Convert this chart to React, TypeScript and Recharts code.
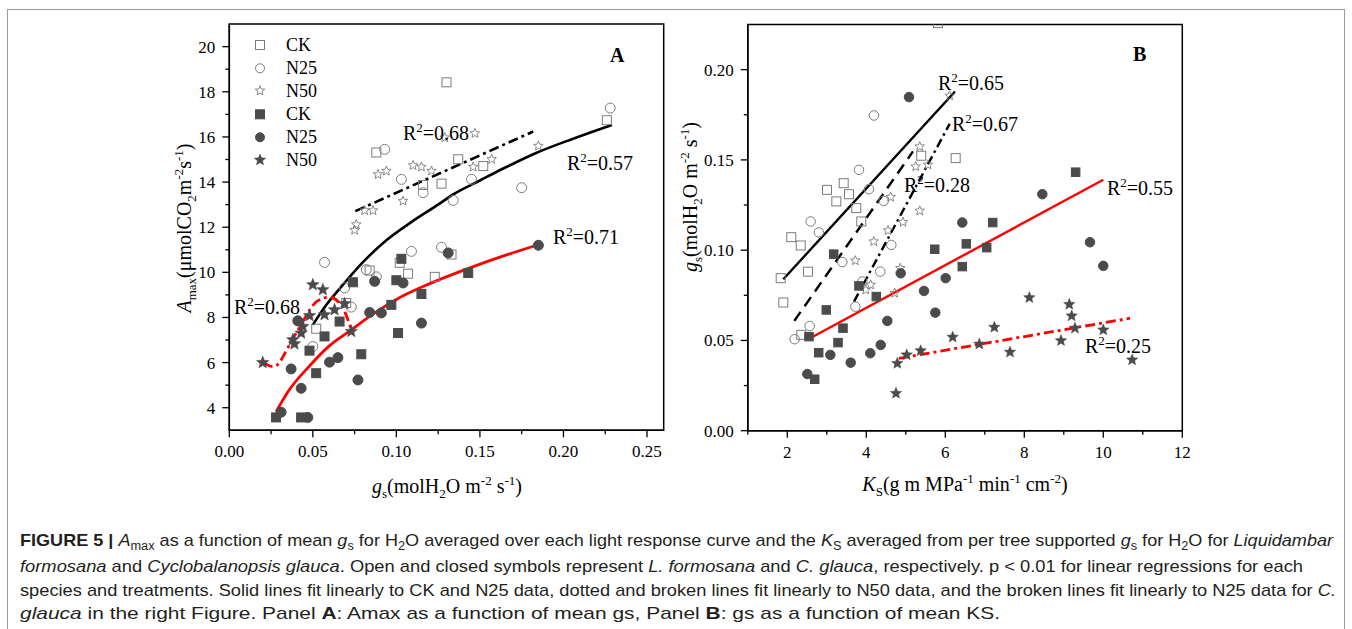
import React from 'react';
import { ComposedChart, Scatter, Line, XAxis, YAxis, ReferenceArea } from 'recharts';

type Pt = { x: number; y: number };
const pts = (arr: number[][]): Pt[] => arr.map(([x, y]) => ({ x, y }));

// ---------------- Panel A data: Amax vs gs ----------------
const aOpenCK = pts([
  [0.130, 18.42], [0.226, 16.74], [0.088, 15.31], [0.137, 15.01], [0.152, 14.71], [0.116, 13.87],
  [0.127, 13.93], [0.084, 10.08], [0.102, 10.42], [0.107, 9.94], [0.123, 9.80], [0.133, 10.79],
  [0.052, 7.50], [0.070, 8.64],
]);
const aOpenN25 = pts([
  [0.228, 17.28], [0.093, 15.45], [0.103, 14.12], [0.116, 13.53], [0.134, 13.19], [0.145, 14.12],
  [0.175, 13.75], [0.057, 10.44], [0.082, 10.12], [0.088, 9.80], [0.109, 10.93], [0.127, 11.11],
  [0.069, 9.31], [0.073, 8.46], [0.050, 6.71],
]);
const aOpenN50 = pts([
  [0.147, 16.16], [0.129, 15.97], [0.185, 15.60], [0.157, 15.01], [0.146, 14.67], [0.110, 14.74],
  [0.115, 14.67], [0.121, 14.49], [0.089, 14.34], [0.094, 14.49], [0.104, 13.16], [0.081, 12.74],
  [0.086, 12.74], [0.076, 12.12], [0.075, 11.87],
]);
const aClosedCK = pts([
  [0.074, 9.56], [0.103, 10.60], [0.100, 9.65], [0.143, 9.97], [0.115, 9.04], [0.097, 8.56],
  [0.101, 7.31], [0.066, 7.82], [0.057, 7.16], [0.048, 6.53], [0.079, 6.37], [0.052, 5.53],
  [0.028, 3.57], [0.043, 3.57],
]);
const aClosedN25 = pts([
  [0.185, 11.20], [0.131, 10.86], [0.087, 9.60], [0.104, 9.53], [0.084, 8.22], [0.091, 8.20],
  [0.115, 7.75], [0.041, 7.85], [0.037, 5.72], [0.060, 6.02], [0.065, 6.22], [0.077, 5.23],
  [0.043, 4.86], [0.031, 3.80], [0.047, 3.57],
]);
const aClosedN50 = pts([
  [0.020, 6.00], [0.038, 7.01], [0.039, 6.83], [0.043, 7.31], [0.044, 7.60], [0.048, 8.08],
  [0.050, 9.45], [0.056, 9.23], [0.057, 8.12], [0.063, 8.34], [0.069, 8.61], [0.073, 7.38],
]);
// fitted curves
const aFitOpenSolid = pts([
  [0.050, 7.67], [0.058, 8.55], [0.066, 9.27], [0.080, 10.45], [0.094, 11.42], [0.110, 12.28],
  [0.125, 13.0], [0.134, 13.45], [0.150, 14.07], [0.164, 14.6], [0.184, 15.3], [0.205, 15.9], [0.229, 16.53],
]);
const aFitOpenN50 = pts([[0.0754, 12.71], [0.1819, 16.24]]);
const aFitClosedSolid = pts([
  [0.028, 3.82], [0.035, 4.70], [0.048, 5.85], [0.060, 6.75], [0.073, 7.45], [0.087, 8.2],
  [0.100, 8.8], [0.120, 9.5], [0.144, 10.2], [0.165, 10.75], [0.184, 11.2],
]);
const aFitClosedN50 = pts([
  [0.0204, 6.0], [0.0264, 5.82], [0.030, 6.0], [0.0324, 6.3], [0.0388, 7.16], [0.0428, 7.65],
  [0.0478, 8.3], [0.0524, 8.71], [0.060, 8.9], [0.0674, 8.49], [0.0734, 7.38],
]);
const aXMajor = [0, 0.05, 0.1, 0.15, 0.2, 0.25];
const aXMinor = [0.025, 0.075, 0.125, 0.175, 0.225];
const aYMajor = [4, 6, 8, 10, 12, 14, 16, 18, 20];
const aYMinor = [5, 7, 9, 11, 13, 15, 17, 19];
const aR2 = ['0.68', '0.57', '0.71', '0.68'];

// ---------------- Panel B data: gs vs KS ----------------
const bOpenCK = pts([
  [5.815, 0.2258], [6.263, 0.151], [5.39, 0.1523], [3.005, 0.1334], [3.428, 0.1371], [3.562, 0.131],
  [3.241, 0.127], [3.747, 0.1233], [3.873, 0.1159], [2.10, 0.1072], [2.34, 0.1026], [1.833, 0.0845],
  [2.524, 0.0881], [1.899, 0.071], [2.354, 0.0531],
]);
const bOpenN25 = pts([
  [4.195, 0.1746], [3.815, 0.1445], [4.068, 0.1338], [4.44, 0.1273], [2.592, 0.1159], [2.80, 0.1098],
  [4.633, 0.1029], [3.393, 0.0934], [4.354, 0.0881], [3.899, 0.0826], [3.722, 0.0687], [2.567, 0.058],
  [2.187, 0.0507],
]);
const bOpenN50 = pts([
  [6.11, 0.1855], [5.352, 0.1574], [5.25, 0.1463], [5.562, 0.1473], [4.618, 0.1294], [5.352, 0.1218],
  [4.929, 0.1155], [4.549, 0.1109], [4.187, 0.1048], [3.722, 0.0942], [4.861, 0.090], [4.111, 0.0808],
  [3.985, 0.078], [4.719, 0.0762],
]);
const bClosedCK = pts([
  [9.30, 0.1432], [7.20, 0.1153], [5.732, 0.1005], [6.532, 0.1035], [6.43, 0.0909], [7.048, 0.1014],
  [3.175, 0.0978], [3.815, 0.0802], [4.253, 0.0743], [2.987, 0.0669], [3.41, 0.0568], [2.549, 0.0521],
  [3.284, 0.0488], [2.795, 0.0432], [2.694, 0.0285],
]);
const bClosedN25 = pts([
  [5.081, 0.1848], [6.43, 0.1153], [8.456, 0.131], [9.663, 0.1044], [10.0, 0.0913], [4.871, 0.0872],
  [6.01, 0.0845], [5.461, 0.0774], [5.747, 0.0654], [4.532, 0.0608], [4.365, 0.0475], [4.101, 0.0429],
  [3.605, 0.0377], [3.089, 0.042], [2.506, 0.0314],
]);
const bClosedN50 = pts([
  [4.752, 0.0207], [4.785, 0.0373], [5.023, 0.042], [5.377, 0.0443], [6.187, 0.0518], [6.861, 0.048],
  [7.241, 0.0573], [7.638, 0.0435], [8.127, 0.0737], [8.929, 0.0499], [9.139, 0.070], [9.20, 0.0636],
  [9.283, 0.0568], [10.0, 0.0558], [10.73, 0.0392],
]);
const bFitSolidBlack = pts([[1.899, 0.0839], [6.246, 0.1879]]);
const bFitDashedBlack = pts([[2.177, 0.0608], [5.182, 0.1547]]);
const bFitDashDotBlack = pts([[3.689, 0.0715], [6.111, 0.170]]);
const bFitSolidRed = pts([[2.575, 0.0512], [10.0, 0.139]]);
const bFitDashDotRed = pts([[4.828, 0.0401], [10.676, 0.0623]]);
const bXMajor = [2, 4, 6, 8, 10, 12];
const bXMinor = [1, 3, 5, 7, 9, 11];
const bYMajor = [0, 0.05, 0.1, 0.15, 0.2];
const bYMinor = [0.025, 0.075, 0.125, 0.175];
const bR2 = ['0.65', '0.67', '0.28', '0.55', '0.25'];

const legendLabels = ['CK', 'N25', 'N50', 'CK', 'N25', 'N50'];

// ---------------- styling helpers ----------------
const SERIF = "'Liberation Serif', 'Times New Roman', serif";
const NARROW = "'Liberation Sans Narrow', 'Arial Narrow', 'Liberation Sans', Arial, sans-serif";
const OPEN_C = '#7c7c7c';
const FILL_C = '#4b4b4b';
const RED = '#ff0000';

type Kind = 'square' | 'circle' | 'star';

function starPath(cx: number, cy: number, R: number, r: number) {
  let d = '';
  for (let i = 0; i < 10; i++) {
    const ang = -Math.PI / 2 + (i * Math.PI) / 5;
    const rad = i % 2 === 0 ? R : r;
    d += (i ? 'L' : 'M') + (cx + rad * Math.cos(ang)).toFixed(2) + ',' + (cy + rad * Math.sin(ang)).toFixed(2);
  }
  return d + 'Z';
}

function Mark({ kind, filled, cx, cy, s }: { kind: Kind; filled: boolean; cx: number; cy: number; s: number }) {
  const stroke = filled ? FILL_C : OPEN_C;
  const fill = filled ? FILL_C : 'none';
  if (kind === 'square')
    return <rect x={cx - s / 2} y={cy - s / 2} width={s} height={s} fill={fill} stroke={stroke} strokeWidth={1} />;
  if (kind === 'circle') return <circle cx={cx} cy={cy} r={s / 2} fill={fill} stroke={stroke} strokeWidth={1} />;
  return <path d={starPath(cx, cy, s / 2, s * 0.22)} fill={fill} stroke={stroke} strokeWidth={filled ? 0.5 : 0.9} />;
}

const shape = (kind: Kind, filled: boolean, s: number) => (p: any) =>
  p.cx == null ? <g /> : <Mark kind={kind} filled={filled} cx={p.cx} cy={p.cy} s={s} />;

const isIn = (arr: number[], v: number) => arr.some((m) => Math.abs(m - v) < 1e-9);

const xTick = (majors: number[], fmt: (v: number) => string) => (p: any) => {
  const { x, y, payload } = p;
  const major = isIn(majors, payload.value);
  return (
    <g>
      <line x1={x} x2={x} y1={y} y2={y + (major ? 7 : 4)} stroke="#000" strokeWidth={1.3} />
      {major && (
        <text x={x} y={y + 27} textAnchor="middle" fontFamily={SERIF} fontSize={17} fill="#000">
          {fmt(payload.value)}
        </text>
      )}
    </g>
  );
};

const yTick = (majors: number[], fmt: (v: number) => string) => (p: any) => {
  const { x, y, payload } = p;
  const major = isIn(majors, payload.value);
  return (
    <g>
      <line x1={x - (major ? 7 : 4)} x2={x} y1={y} y2={y} stroke="#000" strokeWidth={1.3} />
      {major && (
        <text x={x - 14} y={y + 6} textAnchor="end" fontFamily={SERIF} fontSize={17} fill="#000">
          {fmt(payload.value)}
        </text>
      )}
    </g>
  );
};

const sortNum = (a: number[], b: number[]) => [...a, ...b].sort((p, q) => p - q);

const R2Label = ({ x, y, v }: { x: number; y: number; v: string }) => (
  <text x={x} y={y} fontFamily={SERIF} fontSize={20} fill="#000">
    R<tspan dy={-8} fontSize={13}>2</tspan>
    <tspan dy={8}>{'=' + v}</tspan>
  </text>
);

const axisLine = { stroke: '#000', strokeWidth: 1.5 };

function PanelA() {
  return (
    <ComposedChart width={580} height={500} margin={{ top: 24.1, right: 16.3, bottom: 39.7, left: 0 }}>
      <XAxis
        dataKey="x" type="number" domain={[0, 0.26]} allowDataOverflow ticks={sortNum(aXMajor, aXMinor)}
        interval={0} tick={xTick(aXMajor, (v) => v.toFixed(2))} tickLine={false} tickSize={0} tickMargin={0}
        height={30} axisLine={axisLine}
      />
      <YAxis
        dataKey="y" type="number" domain={[3, 21]} allowDataOverflow ticks={sortNum(aYMajor, aYMinor)}
        interval={0} tick={yTick(aYMajor, (v) => String(v))} tickLine={false} tickSize={0} tickMargin={0}
        width={129.3} axisLine={axisLine}
      />
      <ReferenceArea x1={0} x2={0.26} y1={3} y2={21} fill="none" stroke="#000" strokeWidth={1.5} />
      <Line data={aFitOpenSolid} dataKey="y" type="monotone" dot={false} stroke="#000" strokeWidth={2.6} isAnimationActive={false} />
      <Line data={aFitOpenN50} dataKey="y" type="linear" dot={false} stroke="#000" strokeWidth={2.6} strokeDasharray="10 4 3 4" isAnimationActive={false} />
      <Line data={aFitClosedSolid} dataKey="y" type="monotone" dot={false} stroke={RED} strokeWidth={2.8} isAnimationActive={false} />
      <Line data={aFitClosedN50} dataKey="y" type="monotone" dot={false} stroke={RED} strokeWidth={2.8} strokeDasharray="10 4 3 4" isAnimationActive={false} />
      <Scatter data={aOpenCK} dataKey="y" shape={shape('square', false, 9)} isAnimationActive={false} />
      <Scatter data={aOpenN25} dataKey="y" shape={shape('circle', false, 10)} isAnimationActive={false} />
      <Scatter data={aOpenN50} dataKey="y" shape={shape('star', false, 10)} isAnimationActive={false} />
      <Scatter data={aClosedCK} dataKey="y" shape={shape('square', true, 9)} isAnimationActive={false} />
      <Scatter data={aClosedN25} dataKey="y" shape={shape('circle', true, 10)} isAnimationActive={false} />
      <Scatter data={aClosedN50} dataKey="y" shape={shape('star', true, 13)} isAnimationActive={false} />
    </ComposedChart>
  );
}

function PanelB() {
  return (
    <ComposedChart width={520} height={500} margin={{ top: 24.5, right: 17.7, bottom: 39.3, left: 0 }}>
      <XAxis
        dataKey="x" type="number" domain={[1, 12]} allowDataOverflow ticks={sortNum(bXMajor, bXMinor)}
        interval={0} tick={xTick(bXMajor, (v) => String(v))} tickLine={false} tickSize={0} tickMargin={0}
        height={30} axisLine={axisLine}
      />
      <YAxis
        dataKey="y" type="number" domain={[0, 0.225]} allowDataOverflow ticks={sortNum(bYMajor, bYMinor)}
        interval={0} tick={yTick(bYMajor, (v) => v.toFixed(2))} tickLine={false} tickSize={0} tickMargin={0}
        width={67.8} axisLine={axisLine}
      />
      <ReferenceArea x1={1} x2={12} y1={0} y2={0.225} fill="none" stroke="#000" strokeWidth={1.5} />
      <Line data={bFitSolidBlack} dataKey="y" type="linear" dot={false} stroke="#000" strokeWidth={2.4} isAnimationActive={false} />
      <Line data={bFitDashedBlack} dataKey="y" type="linear" dot={false} stroke="#000" strokeWidth={2.4} strokeDasharray="11 7" isAnimationActive={false} />
      <Line data={bFitDashDotBlack} dataKey="y" type="linear" dot={false} stroke="#000" strokeWidth={2.4} strokeDasharray="9 4 2.5 4" isAnimationActive={false} />
      <Line data={bFitSolidRed} dataKey="y" type="linear" dot={false} stroke={RED} strokeWidth={2.4} isAnimationActive={false} />
      <Line data={bFitDashDotRed} dataKey="y" type="linear" dot={false} stroke={RED} strokeWidth={2.8} strokeDasharray="10 4 3 4" isAnimationActive={false} />
      <Scatter data={bOpenCK} dataKey="y" shape={shape('square', false, 9)} isAnimationActive={false} />
      <Scatter data={bOpenN25} dataKey="y" shape={shape('circle', false, 9.5)} isAnimationActive={false} />
      <Scatter data={bOpenN50} dataKey="y" shape={shape('star', false, 10)} isAnimationActive={false} />
      <Scatter data={bClosedCK} dataKey="y" shape={shape('square', true, 8.5)} isAnimationActive={false} />
      <Scatter data={bClosedN25} dataKey="y" shape={shape('circle', true, 9.5)} isAnimationActive={false} />
      <Scatter data={bClosedN50} dataKey="y" shape={shape('star', true, 12)} isAnimationActive={false} />
    </ComposedChart>
  );
}

const SUB = 5;
const SUP = 8;

function Overlay() {
  const legendY = [45, 68.3, 90.7, 114.3, 137.3, 160];
  const legendKinds: Kind[] = ['square', 'circle', 'star', 'square', 'circle', 'star'];
  const aR2Pos = [[403, 140], [567, 170], [553, 244], [234, 314]];
  const bR2Pos = [[938, 89.5], [952, 131], [904, 192], [1107, 195], [1085, 352.5]];
  return (
    <svg width={1352} height={629} style={{ position: 'absolute', left: 0, top: 0, pointerEvents: 'none' }}>
      <rect x={7.5} y={9.5} width={1337} height={640} fill="none" stroke="#9a9a9a" strokeWidth={1} />
      {/* legend A */}
      {legendLabels.map((lab, i) => (
        <g key={i}>
          <Mark kind={legendKinds[i]} filled={i >= 3} cx={260} cy={legendY[i]} s={legendKinds[i] === 'star' ? (i >= 3 ? 12 : 10) : 9} />
          <text x={286} y={legendY[i] + 6} fontFamily={SERIF} fontSize={18} fill="#000">{lab}</text>
        </g>
      ))}
      <text x={610} y={62} fontFamily={SERIF} fontSize={20} fontWeight="bold" fill="#000">A</text>
      <text x={1133} y={61} fontFamily={SERIF} fontSize={20} fontWeight="bold" fill="#000">B</text>
      {aR2.map((v, i) => <R2Label key={'a' + i} x={aR2Pos[i][0]} y={aR2Pos[i][1]} v={v} />)}
      {bR2.map((v, i) => <R2Label key={'b' + i} x={bR2Pos[i][0]} y={bR2Pos[i][1]} v={v} />)}

      {/* axis titles */}
      <text x={447} y={493} textAnchor="middle" fontFamily={SERIF} fontSize={20} fill="#000">
        <tspan fontStyle="italic">g</tspan>
        <tspan dy={SUB} fontSize={13}>s</tspan>
        <tspan dy={-SUB}>(molH</tspan>
        <tspan dy={SUB} fontSize={13}>2</tspan>
        <tspan dy={-SUB}>O m</tspan>
        <tspan dy={-SUP} fontSize={13}>-2</tspan>
        <tspan dy={SUP}> s</tspan>
        <tspan dy={-SUP} fontSize={13}>-1</tspan>
        <tspan dy={SUP}>)</tspan>
      </text>
      <text x={965} y={491} textAnchor="middle" fontFamily={SERIF} fontSize={20} fill="#000">
        <tspan fontStyle="italic">K</tspan>
        <tspan dy={SUB} fontSize={13}>S</tspan>
        <tspan dy={-SUB}>(g m MPa</tspan>
        <tspan dy={-SUP} fontSize={13}>-1</tspan>
        <tspan dy={SUP}> min</tspan>
        <tspan dy={-SUP} fontSize={13}>-1</tspan>
        <tspan dy={SUP}> cm</tspan>
        <tspan dy={-SUP} fontSize={13}>-2</tspan>
        <tspan dy={SUP}>)</tspan>
      </text>
      <text x={0} y={0} transform="translate(191,228) rotate(-90)" textAnchor="middle" fontFamily={SERIF} fontSize={20} fill="#000">
        <tspan fontStyle="italic">A</tspan>
        <tspan dy={SUB} fontSize={13}>max</tspan>
        <tspan dy={-SUB}>(μmolCO</tspan>
        <tspan dy={SUB} fontSize={13}>2</tspan>
        <tspan dy={-SUB}>m</tspan>
        <tspan dy={-SUP} fontSize={13}>-2</tspan>
        <tspan dy={SUP}>s</tspan>
        <tspan dy={-SUP} fontSize={13}>-1</tspan>
        <tspan dy={SUP}>)</tspan>
      </text>
      <text x={0} y={0} transform="translate(697,197) rotate(-90)" textAnchor="middle" fontFamily={SERIF} fontSize={20} fill="#000">
        <tspan fontStyle="italic">g</tspan>
        <tspan dy={SUB} fontSize={13}>s</tspan>
        <tspan dy={-SUB}>(molH</tspan>
        <tspan dy={SUB} fontSize={13}>2</tspan>
        <tspan dy={-SUB}>O m</tspan>
        <tspan dy={-SUP} fontSize={13}>-2</tspan>
        <tspan dy={SUP}> s</tspan>
        <tspan dy={-SUP} fontSize={13}>-1</tspan>
        <tspan dy={SUP}>)</tspan>
      </text>

      {/* caption */}
      <g fontFamily={NARROW} fontSize={17} fill="#231f20">
        <text x={20} y={546} textLength={1313} lengthAdjust="spacingAndGlyphs">
          <tspan fontWeight="bold">{'FIGURE 5 | '}</tspan>
          <tspan fontStyle="italic">A</tspan>
          <tspan dy={4} fontSize={12}>max</tspan>
          <tspan dy={-4}>{' as a function of mean '}</tspan>
          <tspan fontStyle="italic">g</tspan>
          <tspan dy={4} fontSize={12}>s</tspan>
          <tspan dy={-4}>{' for H'}</tspan>
          <tspan dy={4} fontSize={12}>2</tspan>
          <tspan dy={-4}>{'O averaged over each light response curve and the '}</tspan>
          <tspan fontStyle="italic">K</tspan>
          <tspan dy={4} fontSize={12}>S</tspan>
          <tspan dy={-4}>{' averaged from per tree supported '}</tspan>
          <tspan fontStyle="italic">g</tspan>
          <tspan dy={4} fontSize={12}>s</tspan>
          <tspan dy={-4}>{' for H'}</tspan>
          <tspan dy={4} fontSize={12}>2</tspan>
          <tspan dy={-4}>{'O for '}</tspan>
          <tspan fontStyle="italic">Liquidambar</tspan>
        </text>
        <text x={20} y={572} textLength={1283} lengthAdjust="spacingAndGlyphs">
          <tspan fontStyle="italic">formosana</tspan>
          <tspan>{' and '}</tspan>
          <tspan fontStyle="italic">Cyclobalanopsis glauca</tspan>
          <tspan>{'. Open and closed symbols represent '}</tspan>
          <tspan fontStyle="italic">L. formosana</tspan>
          <tspan>{' and '}</tspan>
          <tspan fontStyle="italic">C. glauca</tspan>
          <tspan>{', respectively. p < 0.01 for linear regressions for each'}</tspan>
        </text>
        <text x={20} y={596} textLength={1316} lengthAdjust="spacingAndGlyphs">
          <tspan>{'species and treatments. Solid lines fit linearly to CK and N25 data, dotted and broken lines fit linearly to N50 data, and the broken lines fit linearly to N25 data for '}</tspan>
          <tspan fontStyle="italic">C.</tspan>
        </text>
        <text x={20} y={619} textLength={980} lengthAdjust="spacingAndGlyphs">
          <tspan fontStyle="italic">glauca</tspan>
          <tspan>{' in the right Figure. Panel '}</tspan>
          <tspan fontWeight="bold">A</tspan>
          <tspan>{': Amax as a function of mean gs, Panel '}</tspan>
          <tspan fontWeight="bold">B</tspan>
          <tspan>{': gs as a function of mean KS.'}</tspan>
        </text>
      </g>
    </svg>
  );
}

export default function App() {
  return (
    <div style={{ position: 'absolute', left: 0, top: 0, width: 1352, height: 629, background: '#fff', overflow: 'hidden' }}>
      <div style={{ position: 'absolute', left: 100, top: 0 }}>
        <PanelA />
      </div>
      <div style={{ position: 'absolute', left: 680, top: 0 }}>
        <PanelB />
      </div>
      <Overlay />
    </div>
  );
}
